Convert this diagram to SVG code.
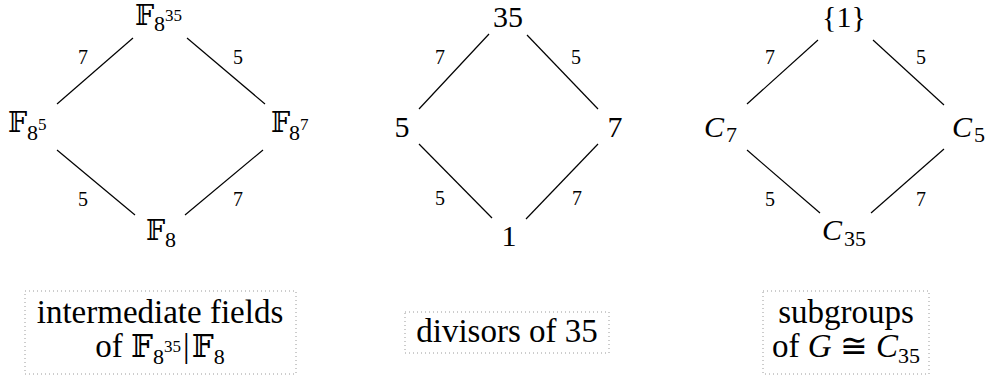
<svg xmlns="http://www.w3.org/2000/svg" width="985" height="378" viewBox="0 0 985 378">
<style>
text{font-family:"Liberation Serif","DejaVu Serif",serif;fill:#000}
.n{font-size:30px}
.bb{font-family:"DejaVu Serif","DejaVu Sans",serif;font-size:27px}
.sub{font-size:22px}
.sup{font-size:17px}
.it{font-style:italic}
.lbl{font-size:20px;text-anchor:middle}
.cap{font-size:33px;text-anchor:middle}
.mid{text-anchor:middle}
.e{stroke:#000;stroke-width:1.2;fill:none}
.box{fill:none;stroke:#9a9a9a;stroke-width:1;stroke-dasharray:1 3}
</style>
<g id="connectors">
<line class="e" x1="57" y1="104" x2="133" y2="38"/>
<line class="e" x1="187" y1="38" x2="265" y2="104"/>
<line class="e" x1="57" y1="150" x2="135" y2="215"/>
<line class="e" x1="263" y1="150" x2="185" y2="215"/>
<line class="e" x1="419" y1="109" x2="489" y2="34"/>
<line class="e" x1="527" y1="35" x2="598" y2="109"/>
<line class="e" x1="419" y1="144" x2="492" y2="218"/>
<line class="e" x1="598" y1="144" x2="526" y2="219"/>
<line class="e" x1="747" y1="104" x2="818" y2="40"/>
<line class="e" x1="873" y1="40" x2="944" y2="105"/>
<line class="e" x1="747" y1="150" x2="820" y2="213"/>
<line class="e" x1="944" y1="149" x2="871" y2="213"/>
<text class="lbl" x="83" y="64">7</text>
<text class="lbl" x="238" y="64">5</text>
<text class="lbl" x="83" y="206">5</text>
<text class="lbl" x="238" y="206">7</text>
<text class="lbl" x="440" y="64">7</text>
<text class="lbl" x="576" y="64">5</text>
<text class="lbl" x="440" y="205">5</text>
<text class="lbl" x="577" y="205">7</text>
<text class="lbl" x="770" y="64">7</text>
<text class="lbl" x="921" y="64">5</text>
<text class="lbl" x="770" y="206">5</text>
<text class="lbl" x="921" y="206">7</text>
</g>
<g id="f835"><text><tspan class="bb" x="135" y="25">𝔽</tspan><tspan class="sub" x="154" y="31">8</tspan><tspan class="sup" x="165" y="21">35</tspan></text></g>
<g id="f85"><text><tspan class="bb" x="8" y="132">𝔽</tspan><tspan class="sub" x="27" y="140">8</tspan><tspan class="sup" x="38" y="130">5</tspan></text></g>
<g id="f87"><text><tspan class="bb" x="271" y="132">𝔽</tspan><tspan class="sub" x="289" y="140">8</tspan><tspan class="sup" x="300" y="130">7</tspan></text></g>
<g id="f8"><text><tspan class="bb" x="146" y="240">𝔽</tspan><tspan class="sub" x="165" y="247">8</tspan></text></g>
<g id="d35"><text class="n mid" x="508" y="27">35</text></g>
<g id="d5"><text class="n mid" x="402" y="137">5</text></g>
<g id="d7"><text class="n mid" x="615" y="137">7</text></g>
<g id="d1"><text class="n mid" x="509" y="246">1</text></g>
<g id="gtriv"><text class="n mid" x="844" y="27">{1}</text></g>
<g id="c7"><text><tspan class="n it" x="704" y="137">C</tspan><tspan class="sub" x="726" y="142">7</tspan></text></g>
<g id="c5"><text><tspan class="n it" x="952" y="137">C</tspan><tspan class="sub" x="974" y="142">5</tspan></text></g>
<g id="c35"><text><tspan class="n it" x="822" y="240">C</tspan><tspan class="sub" x="844" y="246">35</tspan></text></g>
<g id="cap1">
<rect class="box" x="25" y="291" width="271" height="83"/>
<text class="cap" x="160" y="323">intermediate fields</text>
<text class="cap" x="160" y="357">of <tspan class="bb" style="font-size:31px">𝔽</tspan><tspan class="sub" dy="7">8</tspan><tspan class="sup" dy="-12">35</tspan><tspan dy="5" dx="2">|</tspan><tspan class="bb" style="font-size:31px" dx="2">𝔽</tspan><tspan class="sub" dy="7">8</tspan></text>
</g>
<g id="cap2">
<rect class="box" x="405" y="312" width="204" height="41"/>
<text class="cap" x="507" y="342">divisors of 35</text>
</g>
<g id="cap3">
<rect class="box" x="763" y="291" width="166" height="83"/>
<text class="cap" x="846" y="323">subgroups</text>
<text class="cap" x="846" y="357">of <tspan class="it">G</tspan> ≅ <tspan class="it">C</tspan><tspan class="sub" dy="6">35</tspan></text>
</g>
</svg>
